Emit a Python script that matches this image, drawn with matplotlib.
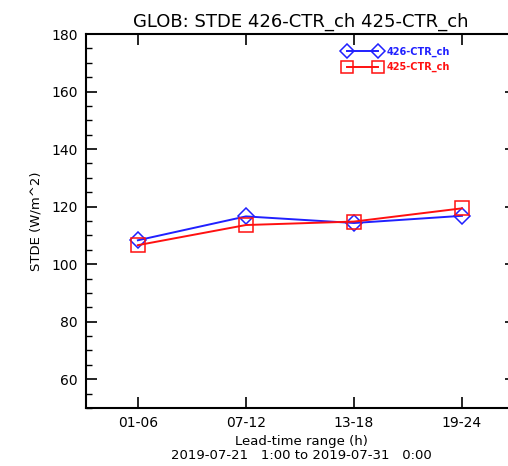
import matplotlib
matplotlib.use("Agg")
import matplotlib.pyplot as plt
from matplotlib.ticker import MultipleLocator

categories = ["01-06", "07-12", "13-18", "19-24"]
series_426 = [108.3, 116.6, 114.3, 116.8]
series_425 = [106.6, 113.6, 114.8, 119.4]
label_426 = "426-CTR_ch"
label_425 = "425-CTR_ch"
title = "GLOB: STDE 426-CTR_ch 425-CTR_ch"
xlabel = "Lead-time range (h)\n2019-07-21   1:00 to 2019-07-31   0:00"
ylabel = "STDE (W/m^2)"

fig = plt.figure(figsize=(5.08, 4.66), dpi=100)
ax = fig.add_axes([86/508, 58/466, 430/508, 374/466])

x = list(range(len(categories)))
ax.plot(x, series_426, color="#2020ff", lw=1.4, marker="D", ms=8,
        mfc="none", mec="#2020ff", mew=1.1, label=label_426)
ax.plot(x, series_425, color="#ff1010", lw=1.4, marker="s", ms=10,
        mfc="none", mec="#ff1010", mew=1.1, label=label_425)

ax.set_xlim(-0.48, 3.5)
ax.set_ylim(50, 180)
ax.set_xticks(x)
ax.set_xticklabels(categories, fontsize=10)
ax.yaxis.set_major_locator(MultipleLocator(20))
ax.yaxis.set_minor_locator(MultipleLocator(5))
ax.set_yticks([60, 80, 100, 120, 140, 160, 180])
ax.tick_params(axis="both", which="major", direction="in", length=8, width=1.2,
               top=True, right=True, labelsize=10, pad=6)
ax.tick_params(axis="y", which="minor", direction="in", length=4, width=1.0, right=True)
for s in ax.spines.values():
    s.set_linewidth(1.5)
ax.spines["right"].set_visible(False)

ax.set_title(title, fontsize=13, pad=5)
ax.set_xlabel(xlabel, fontsize=9.5, linespacing=1.15, labelpad=3)
ax.set_ylabel(ylabel, fontsize=9.5, labelpad=6)

leg = ax.legend(loc="upper left", bbox_to_anchor=(0.585, 0.985), frameon=False,
                numpoints=2, handlelength=3.8, fontsize=7, labelspacing=0.55,
                handletextpad=0.5, borderaxespad=0.3, markerscale=0.9)
for t, c in zip(leg.get_texts(), ["#2020ff", "#ff1010"]):
    t.set_color(c)
    t.set_fontweight("bold")

fig.savefig("out.png", dpi=100, facecolor="white")
